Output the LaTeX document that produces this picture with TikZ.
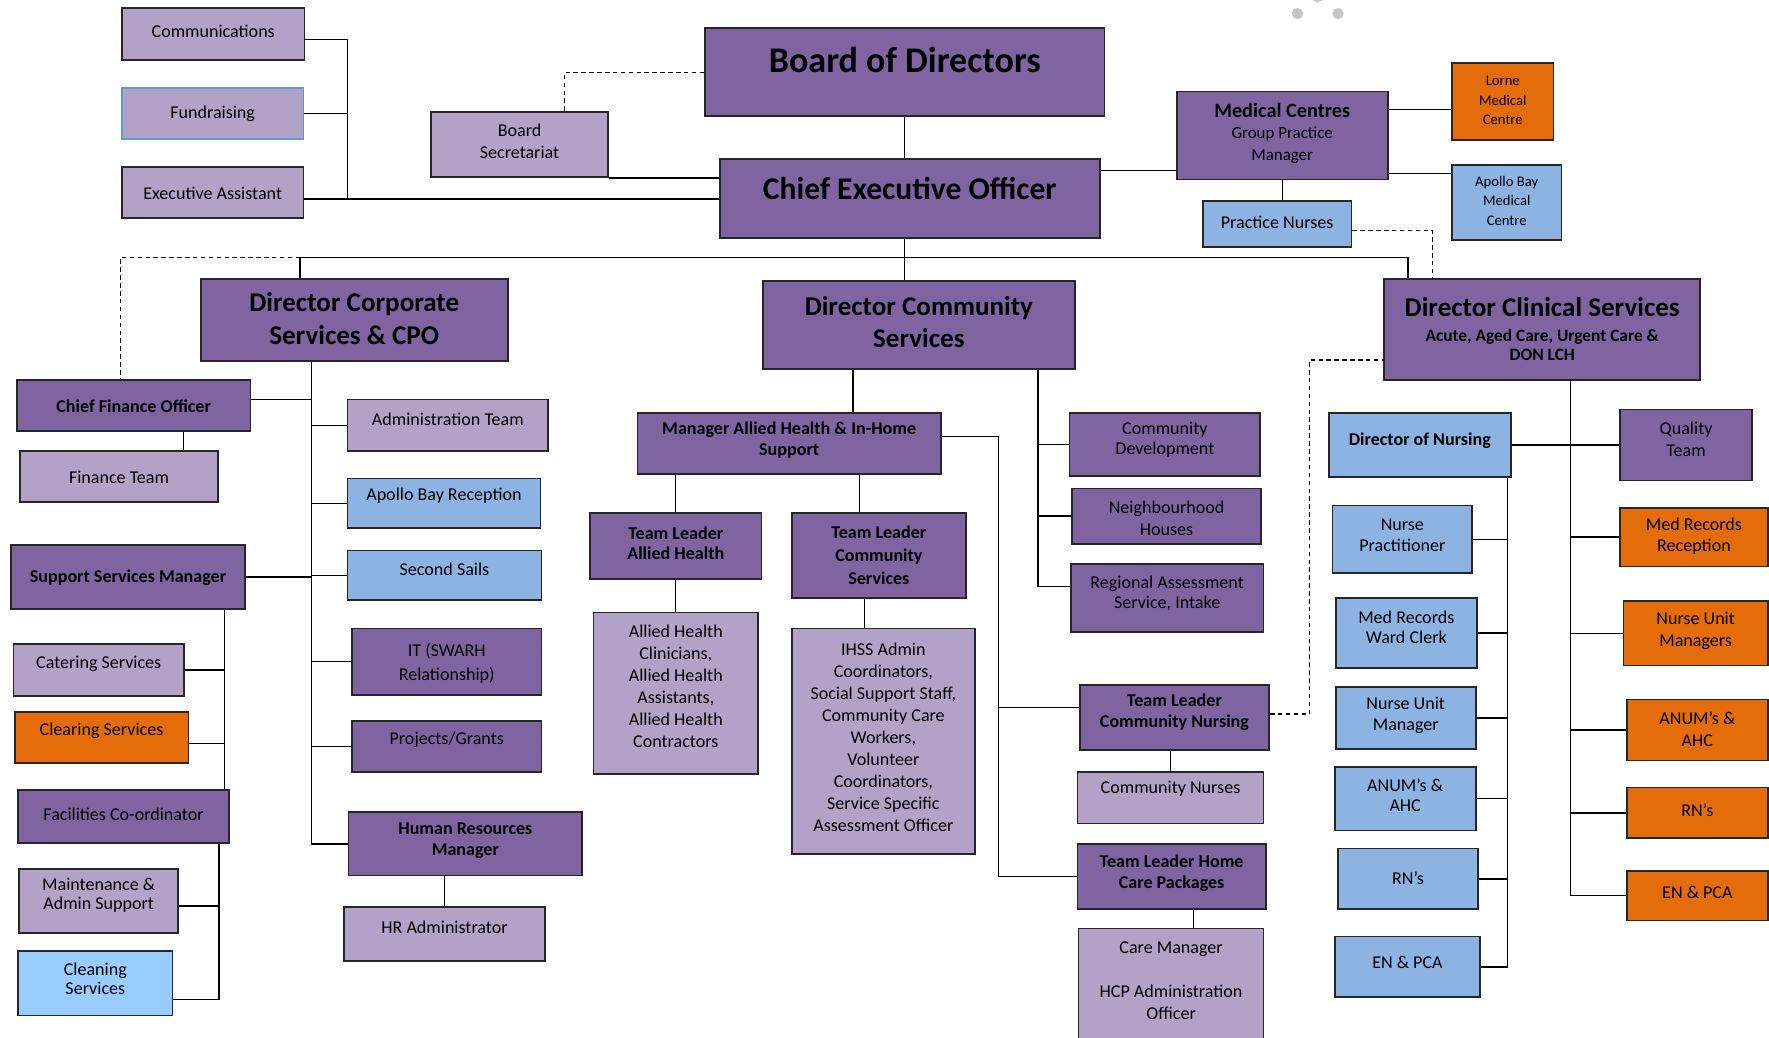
\documentclass[tikz,border=0pt]{standalone}
\usepackage{fontspec}
\setmainfont{Carlito}
\usetikzlibrary{fit}
\definecolor{dpur}{HTML}{8064A2}
\definecolor{lpur}{HTML}{B3A2C7}
\definecolor{lblu}{HTML}{8DB3E2}
\definecolor{orng}{HTML}{E46C0A}
\definecolor{cblu}{HTML}{99CCFF}
\definecolor{bord}{HTML}{262626}
\definecolor{fblu}{HTML}{5B9BD5}
\newcommand\orgreg{\fontsize{8}{9.8}\selectfont}
\newcommand\orgbold{\bfseries\fontsize{8}{9.3}\selectfont}
\newcommand\orgbig{\bfseries\fontsize{12}{14.5}\selectfont}
% name, x1, y1, x2, y2, style, text y, font, text
\newcommand\obx[9]{%
  \node[fit={(#2,#3) (#4,#5)}, inner sep=0pt, #6] (#1) {};
  \node[txt, font=#8] (#1-t) at ({(#2+#4)/2},#7) {#9};
}
\begin{document}
\begin{tikzpicture}[x=0.5pt,y=-0.5pt,
  box/.style={draw=bord, line width=0.75pt},
  dp/.style={box, fill=dpur},
  lp/.style={box, fill=lpur},
  bl/.style={box, fill=lblu},
  og/.style={box, fill=orng},
  cb/.style={box, fill=cblu},
  txt/.style={align=center, inner sep=0pt, text=black},
  conn/.style={draw=black, line width=0.6pt},
  dsh/.style={conn, dash pattern=on 2pt off 1.5pt}]
\useasboundingbox (0,0) rectangle (1568,920);
\clip (0,0) rectangle (1568,920);
\fill[white] (0,0) rectangle (1568,920);
% loading dots
\fill[gray!45] (1150,12) circle (5);
\fill[gray!45] (1186,12) circle (5);
\fill[gray!45] (1168,-3) circle (5);

% ---- top area
\obx{comm}{108}{7}{270}{53}{lp}{28}{\orgreg}{Communications}
\obx{fund}{108}{78}{269}{123}{lp,draw=fblu}{101}{\orgreg}{Fundraising}
\obx{exec}{108}{148}{269}{193}{lp}{171}{\orgreg}{Executive Assistant}
\obx{bsec}{382}{99}{539}{157}{lp}{125}{\orgreg}{Board\\Secretariat}
\obx{bod}{625}{25}{979}{103}{dp}{53}{\bfseries\fontsize{16}{19}\selectfont}{Board of Directors}
\obx{ceo}{638}{141}{975}{211}{dp}{167}{\bfseries\fontsize{14}{17}\selectfont}{Chief Executive Officer}
\obx{mc}{1043}{81}{1230}{159}{dp}{98}{\bfseries\fontsize{9}{11}\selectfont}{Medical Centres}
\node[txt, font=\fontsize{7.5}{9.8}\selectfont] (mc-s) at (1136.5,128.5) {Group Practice\\Manager};
\obx{lorne}{1287}{56}{1377}{124}{og}{89}{\fontsize{6.5}{8.5}\selectfont}{Lorne\\Medical\\Centre}
\obx{abmc}{1287}{146}{1384}{213}{bl}{178}{\fontsize{6.5}{8.5}\selectfont}{Apollo Bay\\Medical\\Centre}
\obx{pn}{1066}{178}{1198}{219}{bl}{197}{\orgreg}{Practice Nurses}

% ---- directors
\obx{dcorp}{178}{247}{450}{320}{dp}{282.5}{\orgbig}{Director Corporate\\Services \& CPO}
\obx{dcomm}{676}{249}{953}{327}{dp}{285.5}{\orgbig}{Director Community\\Services}
\obx{dclin}{1227}{247}{1507}{337}{dp}{272}{\orgbig}{Director Clinical Services}
\node[txt, font=\bfseries\fontsize{7.7}{8.5}\selectfont] (dclin-s) at (1367,305.5) {Acute, Aged Care, Urgent Care \&\\DON LCH};

% ---- corporate
\obx{cfo}{15}{337}{222}{382}{dp}{360}{\orgbold}{Chief Finance Officer}
\obx{fin}{18}{400}{193}{445}{lp}{423}{\orgreg}{Finance Team}
\obx{admin}{308}{354}{486}{400}{lp}{372}{\orgreg}{Administration Team}
\obx{abr}{308}{424}{479}{468}{bl}{439}{\orgreg}{Apollo Bay Reception}
\obx{ss}{308}{488}{480}{532}{bl}{505}{\orgreg}{Second Sails}
\obx{ssm}{10}{483}{217}{540}{dp}{512}{\orgbold}{Support Services Manager}
\obx{it}{312}{557}{480}{616}{dp}{588}{\fontsize{8}{11}\selectfont}{IT (SWARH\\Relationship)}
\obx{pg}{312}{639}{480}{684}{dp}{656}{\orgreg}{Projects/Grants}
\obx{hrm}{309}{720}{516}{776}{dp}{745}{\orgbold}{Human Resources\\Manager}
\obx{hra}{305}{804}{483}{852}{lp}{822}{\orgreg}{HR Administrator}
\obx{cat}{12}{571}{163}{617}{lp}{588}{\orgreg}{Catering Services}
\obx{clr}{13}{631}{167}{676}{og}{648}{\orgreg}{Clearing Services}
\obx{fac}{16}{700}{203}{747}{dp}{722}{\orgreg}{Facilities Co-ordinator}
\obx{mnt}{17}{770}{158}{827}{lp}{793.5}{\fontsize{8}{8.6}\selectfont}{Maintenance \&\\Admin Support}
\obx{cln}{16}{843}{153}{900}{cb}{867.5}{\fontsize{8}{8.6}\selectfont}{Cleaning\\Services}

% ---- community
\obx{mah}{565}{366}{834}{420}{dp}{390}{\orgbold}{Manager Allied Health \& In-Home\\Support}
\obx{tlah}{523}{455}{675}{513}{dp}{481.5}{\orgbold}{Team Leader\\Allied Health}
\obx{tlcs}{702}{455}{856}{530}{dp}{492.5}{\bfseries\fontsize{8}{10.2}\selectfont}{Team Leader\\Community\\Services}
\obx{ahc}{526}{543}{672}{686}{lp}{608.5}{\orgreg}{Allied Health\\Clinicians,\\Allied Health\\Assistants,\\Allied Health\\Contractors}
\obx{ihss}{702}{557}{864}{757}{lp}{653.5}{\orgreg}{IHSS Admin\\Coordinators,\\Social Support Staff,\\Community Care\\Workers,\\Volunteer\\Coordinators,\\Service Specific\\Assessment Officer}
\obx{cd}{948}{366}{1117}{422}{dp}{390}{\fontsize{8}{9}\selectfont}{Community\\Development}
\obx{nh}{950}{433}{1118}{482}{dp}{459.5}{\fontsize{8}{9.5}\selectfont}{Neighbourhood\\Houses}
\obx{ras}{949}{500}{1120}{560}{dp}{526}{\fontsize{8}{9}\selectfont}{Regional Assessment\\Service, Intake}
\obx{tlcn}{957}{607}{1125}{665}{dp}{631}{\orgbold}{Team Leader\\Community Nursing}
\obx{cn}{955}{684}{1120}{730}{lp}{699}{\orgreg}{Community Nurses}
\obx{tlhcp}{955}{748}{1122}{806}{dp}{774}{\orgbold}{Team Leader Home\\Care Packages}
\obx{cm}{956}{823}{1120}{935}{lp}{869.5}{\orgreg}{Care Manager\\[9.8pt]HCP Administration\\Officer}

% ---- clinical
\obx{don}{1178}{366}{1339}{423}{bl}{391}{\orgbold}{Director of Nursing}
\obx{np}{1181}{448}{1305}{508}{bl}{474.5}{\fontsize{8}{9.5}\selectfont}{Nurse\\Practitioner}
\obx{mrwc}{1184}{530}{1309}{592}{bl}{556}{\fontsize{8}{9}\selectfont}{Med Records\\Ward Clerk}
\obx{num}{1184}{609}{1308}{664}{bl}{634}{\fontsize{8}{9}\selectfont}{Nurse Unit\\Manager}
\obx{anuma}{1183}{680}{1308}{736}{bl}{705}{\fontsize{8}{9}\selectfont}{ANUM’s \&\\AHC}
\obx{rna}{1186}{752}{1310}{806}{bl}{778}{\orgreg}{RN’s}
\obx{ena}{1183}{830}{1312}{884}{bl}{853}{\orgreg}{EN \& PCA}
\obx{qt}{1436}{363}{1553}{426}{dp}{389.5}{\fontsize{8}{9.5}\selectfont}{Quality\\Team}
\obx{mrr}{1436}{450}{1567}{502}{og}{475.5}{\fontsize{8}{9.5}\selectfont}{Med Records\\Reception}
\obx{nums}{1439}{533}{1567}{590}{og}{559}{\fontsize{8}{10}\selectfont}{Nurse Unit\\Managers}
\obx{anumb}{1442}{620}{1567}{674}{og}{646.5}{\fontsize{8}{9.5}\selectfont}{ANUM’s \&\\AHC}
\obx{rnb}{1442}{698}{1567}{743}{og}{718}{\orgreg}{RN’s}
\obx{enb}{1442}{772}{1567}{816}{og}{791}{\orgreg}{EN \& PCA}

% ================= connectors
\coordinate (lbus) at (308,0);
\coordinate (mbus) at (0,228);
\coordinate (cbus) at (276,0);
\coordinate (sbus) at (199,0);
\coordinate (fbus) at (194,0);
\coordinate (dbus) at (920,0);
\coordinate (abus) at (885,0);
\coordinate (rbus) at (1392,0);
\coordinate (nbus) at (1336,0);

% top
\draw[conn] (bod.south) -- (bod.south |- ceo.north);
\draw[dsh] ([xshift=20pt]bsec.north) |- (bod.west);
\draw[conn] (bsec.south east) -- (bsec.south east -| ceo.west);
\draw[conn] ([yshift=-3pt]exec.east) -- ([yshift=-3pt]exec.east -| ceo.west);
\draw[conn] ([yshift=-2.5pt]comm.east) -- ([yshift=-2.5pt]comm.east -| lbus) -- ([yshift=-3pt]exec.east -| lbus);
\draw[conn] (fund.east) -- (fund.east -| lbus);
\draw[conn] ([yshift=12.5pt]ceo.east) -- ([yshift=12.5pt]ceo.east -| mc.west);
\draw[conn] ([yshift=-3.5pt]lorne.west -| mc.east) -- ([yshift=-3.5pt]lorne.west);
\draw[conn] ([yshift=13pt]abmc.west -| mc.east) -- ([yshift=13pt]abmc.west);
\draw[conn] (mc.south) -- (mc.south |- pn.north);
\draw[dsh] ([yshift=-3pt]pn.east) -| ([xshift=-48.5pt]dclin.north);

% main bus
\draw[conn] (bod.south |- ceo.south) -- (bod.south |- dcomm.north);
\draw[conn] ([xshift=-24pt]dcorp.north) |- ([xshift=-59.5pt]dclin.north |- mbus) -- ([xshift=-59.5pt]dclin.north);
\draw[dsh] ([xshift=-24pt]dcorp.north |- mbus) -| ([xshift=-5.75pt]cfo.north);

% corporate
\draw[conn] (dcorp.south -| cbus) -- (hrm.west -| cbus) -- (hrm.west);
\draw[conn] ([yshift=2.75pt]cfo.east) -- ([yshift=2.75pt]cfo.east -| cbus);
\draw[conn] (admin.west -| cbus) -- (admin.west);
\draw[conn] (abr.west -| cbus) -- (abr.west);
\draw[conn] (ss.west -| cbus) -- (ss.west);
\draw[conn] (ssm.east) -- (ssm.east -| cbus);
\draw[conn] (it.west -| cbus) -- (it.west);
\draw[conn] (pg.west -| cbus) -- (pg.west);
\draw[conn] (hra.north) -- (hra.north |- hrm.south);
\draw[conn] ([xshift=22pt]cfo.south) -- ([xshift=22pt]cfo.south |- fin.north);
\draw[conn] (ssm.south -| sbus) -- (fac.north -| sbus);
\draw[conn] (cat.east) -- (cat.east -| sbus);
\draw[conn] ([yshift=-2.75pt]clr.east) -- ([yshift=-2.75pt]clr.east -| sbus);
\draw[conn] (fac.south -| fbus) -- ([yshift=-7.25pt]cln.east -| fbus) -- ([yshift=-7.25pt]cln.east);
\draw[conn] ([yshift=-2.25pt]mnt.east) -- ([yshift=-2.25pt]mnt.east -| fbus);

% community
\draw[conn] ([xshift=28.25pt]mah.north) -- ([xshift=28.25pt]mah.north |- dcomm.south);
\draw[conn] (dcomm.south -| dbus) -- ([yshift=5pt]ras.west -| dbus) -- ([yshift=5pt]ras.west);
\draw[conn] (cd.west -| dbus) -- (cd.west);
\draw[conn] (nh.west -| dbus) -- (nh.west);
\draw[conn] (tlah.north) -- (tlah.north |- mah.south);
\draw[conn] ([xshift=-8.5pt]tlcs.north) -- ([xshift=-8.5pt]tlcs.north |- mah.south);
\draw[conn] ([yshift=3pt]mah.east) -| (tlhcp.west -| abus) -- (tlhcp.west);
\draw[conn] ([yshift=4.5pt]tlcn.west -| abus) -- ([yshift=4.5pt]tlcn.west);
\draw[conn] (ahc.north) -- (ahc.north |- tlah.south);
\draw[conn] ([xshift=-6.5pt]tlcs.south) -- ([xshift=-6.5pt]tlcs.south |- ihss.north);
\draw[conn] (cn.north) -- (cn.north |- tlcn.south);
\draw[conn] ([xshift=10pt]cm.north) -- ([xshift=10pt]cm.north |- tlhcp.south);
\draw[dsh] ([yshift=1.5pt]tlcn.east) -- ++(17.5pt,0) |- ([yshift=-13.5pt]dclin.west);

% clinical
\draw[conn] (dclin.south -| rbus) -- (enb.west -| rbus) -- (enb.west);
\draw[conn] (don.east) -- (qt.west);
\draw[conn] (mrr.west -| rbus) -- (mrr.west);
\draw[conn] (nums.west -| rbus) -- (nums.west);
\draw[conn] (anumb.west -| rbus) -- (anumb.west);
\draw[conn] (rnb.west -| rbus) -- (rnb.west);
\draw[conn] (don.south -| nbus) -- (ena.east -| nbus) -- (ena.east);
\draw[conn] (np.east) -- (np.east -| nbus);
\draw[conn] (mrwc.east) -- (mrwc.east -| nbus);
\draw[conn] (num.east) -- (num.east -| nbus);
\draw[conn] (anuma.east) -- (anuma.east -| nbus);
\draw[conn] (rna.east) -- (rna.east -| nbus);
\end{tikzpicture}
\end{document}
